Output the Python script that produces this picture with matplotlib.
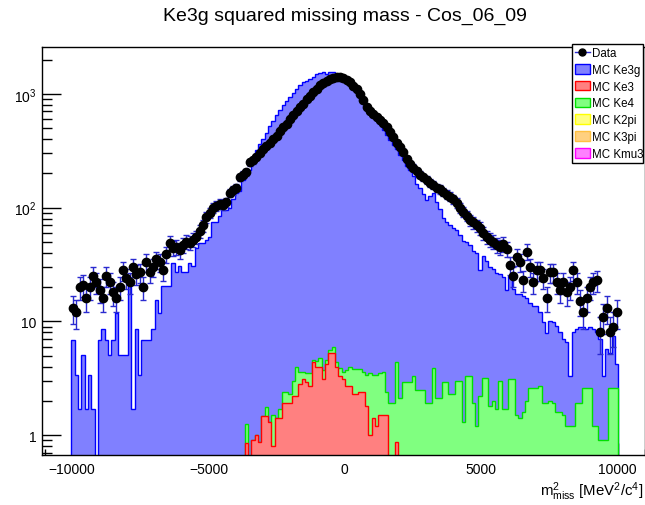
import numpy as np
import matplotlib
matplotlib.use("Agg")
import matplotlib.pyplot as plt
from matplotlib.patches import Patch
from matplotlib.lines import Line2D
from matplotlib.ticker import (FixedLocator, FixedFormatter, MultipleLocator,
                               LogLocator, NullFormatter)

# histogram: 180 bins over [-11000, 11000], only bins 8..171 are filled
n_bins = 180
x_lo, x_hi = -11000, 11000
first_bin, last_bin = 8, 172

data = [13, 12, 20, 21, 16, 20, 25, 22, 19, 16,
        25, 22, 18, 16, 20, 28, 24, 22, 30, 26,
        27, 20, 33, 27, 30, 35, 33, 28, 39, 49,
        44, 45, 42, 47, 50, 49, 52, 55, 62, 70,
        82, 90, 100, 104, 108, 106, 112, 135, 142, 150,
        185, 195, 205, 250, 260, 280, 300, 325, 350, 370,
        400, 430, 470, 510, 540, 600, 650, 700, 760, 820,
        900, 960, 1030, 1110, 1200, 1250, 1300, 1340, 1380, 1400,
        1410, 1370, 1330, 1260, 1180, 1100, 1000, 880, 770, 700,
        670, 630, 590, 550, 510, 460, 420, 370, 340, 310,
        270, 240, 225, 210, 195, 185, 175, 165, 158, 150,
        145, 138, 130, 125, 118, 110, 100, 92, 85, 78,
        74, 70, 66, 60, 55, 52, 50, 47, 45, 48,
        43, 31, 25, 37, 33, 23, 41, 30, 22, 28,
        28, 24, 16, 27, 27, 22, 19, 22, 18, 20,
        28, 22, 15, 12, 16, 20, 22, 23, 8, 11,
        13, 8, 9, 12]

mc_ke3g = [6.8, 3.4, 1.7, 5.1, 1.7, 3.4, 1.7, 0, 6.8, 8.5,
           6.8, 5.1, 6.8, 11.9, 5.1, 5.1, 5.1, 20.4, 1.7, 8.5,
           3.4, 6.8, 6.8, 6.8, 8.5, 15.3, 11.9, 20.4, 20.4, 20.4,
           32.3, 27.2, 30.6, 27.2, 27.2, 32.3, 30.6, 44.2, 49.3, 49.3,
           52, 55, 74, 74, 85, 96, 96, 100, 120, 135,
           140, 175, 195, 215, 260, 320, 360, 400, 450, 520,
           580, 650, 720, 790, 860, 940, 1020, 1100, 1200, 1260,
           1300, 1340, 1400, 1500, 1520, 1540, 1500, 1540, 1560, 1500,
           1450, 1400, 1350, 1280, 1200, 1080, 980, 880, 800, 720,
           640, 590, 540, 480, 430, 390, 350, 320, 290, 260,
           230, 210, 185, 160, 145, 130, 115, 125, 130, 110,
           95, 78, 72, 68, 64, 60, 55, 50, 47, 44,
           40, 39, 26, 34, 31, 28, 27, 25, 23, 23,
           17, 22, 16, 16, 16, 15, 14, 12, 11, 11,
           9.5, 8, 6, 8, 8, 7.5, 6.5, 5.5, 5.4, 2.1,
           6.8, 6.6, 7.1, 6.4, 5.9, 6.4, 7.3, 6.8, 6.1, 2.4,
           4.8, 2.7, 4.8, 1.6]

mc_ke3 = ([0.0] * 50 +
          [0, 0, 0.85, 0, 0.9, 1.0, 0.87, 1.47, 1.47, 1.3,
           0.8, 1.4, 1.4, 1.9, 1.9, 1.9, 2.2, 2.2, 2.8, 3.1,
           2.9, 2.7, 4.4, 4.0, 4.0, 3.1, 4.2, 5.3, 5.3, 4.0,
           3.3, 3.1, 2.7, 2.7, 2.3, 2.3, 2.4, 2.4, 1.8, 1.0,
           1.4, 1.2, 1.5, 1.5, 1.5, 0, 0, 0.87, 0, 0] +
          [0.0] * 64)

mc_ke4 = ([0.0] * 52 +
          [0.4, 0, 0, 0, 0, 0, 0.3, 0,
           0.7, 0, 0.3, 0.5, 0.5, 0.4, 0.8, 1.8, 0.8, 0.5,
           0.6, 0.8, 0.2, 0.5, 0.8, 0.6, 0.4, 0.3, 0.7, 0.4,
           0.6, 0.5, 1.0, 1.3, 1.5, 1.5, 1.4, 1.2, 1.6, 2.5,
           2.0, 2.2, 2.0, 2.1, 0.9, 1.9, 1.9, 3.5, 2.1, 2.9,
           2.9, 2.9, 3.3, 2.5, 2.5, 2.5, 1.9, 1.9, 3.9, 2.1,
           2.1, 2.9, 2.9, 2.3, 2.3, 3.0, 3.0, 1.3, 3.3, 3.3,
           1.9, 1.2, 2.2, 3.2, 3.2, 1.8, 2.0, 1.7, 3.0, 1.7,
           1.7, 3.1, 3.1, 1.5, 1.4, 1.6, 2.0, 2.6, 2.6, 2.6,
           2.7, 1.9, 1.9, 2.0, 1.9, 1.6, 1.6, 1.5, 1.2, 1.2,
           1.2, 1.9, 1.9, 2.6, 2.6, 2.6, 1.2, 1.2, 0.9, 0.9,
           0.9, 2.6, 2.6, 2.6])

# these samples are empty in this cos bin
mc_k2pi = [0.0] * 164
mc_k3pi = [0.0] * 164
mc_kmu3 = [0.0] * 164

legend_labels = ["Data", "MC Ke3g", "MC Ke3", "MC Ke4", "MC K2pi", "MC K3pi", "MC Kmu3"]


plt.rcParams['font.family'] = ['Liberation Sans', 'DejaVu Sans']
plt.rcParams['mathtext.fontset'] = 'custom'
plt.rcParams['mathtext.rm'] = 'Liberation Sans'
plt.rcParams['mathtext.it'] = 'Liberation Sans:italic'
plt.rcParams['mathtext.bf'] = 'Liberation Sans:bold'

fig = plt.figure(figsize=(6.45, 5.06), dpi=100)
ax = fig.add_axes([42 / 645, 50 / 506, 603 / 645, 408 / 506])

edges = np.linspace(x_lo, x_hi, n_bins + 1)[first_bin:last_bin + 1]
centers = 0.5 * (edges[1:] + edges[:-1])

floor = 1e-2
s_ke3 = np.array(mc_ke3)
s_ke4 = s_ke3 + np.array(mc_ke4)
s_rest = s_ke4 + np.array(mc_k2pi) + np.array(mc_k3pi) + np.array(mc_kmu3)
s_all = s_rest + np.array(mc_ke3g)

# stack drawn top-down, like THStack
ax.stairs(np.maximum(s_all, floor), edges, baseline=floor, fill=True,
          facecolor='#8080ff', edgecolor='#0000ff', lw=1.0, zorder=2)
ax.stairs(np.maximum(s_ke4, floor), edges, baseline=floor, fill=True,
          facecolor='#80ff80', edgecolor='#00e000', lw=1.0, zorder=3)
ax.stairs(np.maximum(s_ke3, floor), edges, baseline=floor, fill=True,
          facecolor='#ff8080', edgecolor='#ff0000', lw=1.0, zorder=4)

d = np.array(data, dtype=float)
ax.errorbar(centers, d, yerr=np.sqrt(d), fmt='o', color='k', ms=6,
            ecolor='#2a2ad0', elinewidth=1.0, capsize=2.2, capthick=1.0, zorder=6)

ax.set_xlim(-11100, 11000)
ax.set_yscale('log')
ax.set_ylim(0.668, 2583)

ax.xaxis.set_major_locator(FixedLocator([-10000, -5000, 0, 5000, 10000]))
ax.xaxis.set_minor_locator(MultipleLocator(1000))
ax.yaxis.set_major_locator(FixedLocator([1, 10, 100, 1000]))
ax.yaxis.set_major_formatter(FixedFormatter(['1', '10', r'$10^{2}$', r'$10^{3}$']))
ax.yaxis.set_minor_locator(LogLocator(base=10, subs=np.arange(2, 10)))
ax.yaxis.set_minor_formatter(NullFormatter())
ax.tick_params(axis='x', which='major', direction='in', length=8.6, width=1,
               labelsize=10, pad=5, top=False)
ax.tick_params(axis='x', which='minor', direction='in', length=4, width=1, top=False)
ax.tick_params(axis='y', which='major', direction='in', length=13.7, width=1,
               labelsize=10, pad=4, right=False)
ax.tick_params(axis='y', which='minor', direction='in', length=7.2, width=1, right=False)
for sp in ax.spines.values():
    sp.set_linewidth(1)
    sp.set_zorder(10)

fig.text(0.535, 1 - 16 / 506, "Ke3g squared missing mass - Cos_06_09",
         ha='center', va='center', fontsize=14)
fig.text(0.998, 1 - 492 / 506, r'$\mathrm{m^{2}_{miss}}$ [MeV$^{2}$/c$^{4}$]',
         ha='right', va='center', fontsize=10.8)

handles = [Line2D([0], [0], color='#2a2ad0', lw=1, marker='o', mfc='k', mec='k', ms=5),
           Patch(facecolor='#8080ff', edgecolor='#0000ff'),
           Patch(facecolor='#ff8080', edgecolor='#ff0000'),
           Patch(facecolor='#80ff80', edgecolor='#00e000'),
           Patch(facecolor='#ffff80', edgecolor='#ffff00'),
           Patch(facecolor='#ffd080', edgecolor='#ffc040'),
           Patch(facecolor='#ff80ff', edgecolor='#ff00ff')]
leg = fig.legend(handles, legend_labels, loc='upper left',
                 bbox_to_anchor=(572 / 645, 1 - 157 / 506, 71 / 645, 112 / 506),
                 mode='expand', borderaxespad=0, fontsize=8.3, handlelength=1.3,
                 handleheight=0.9, handletextpad=0.15, borderpad=0.25,
                 labelspacing=0.42, fancybox=False, framealpha=1, edgecolor='k')
leg.get_frame().set_linewidth(1)

fig.savefig('out.png', dpi=100)
